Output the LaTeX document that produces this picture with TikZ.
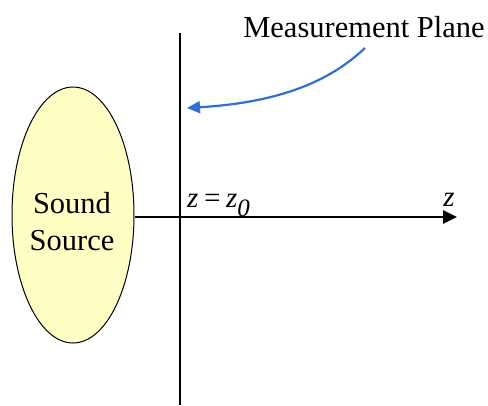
\documentclass[tikz,border=0pt]{standalone}
\usepackage{fontspec}
\setmainfont{Liberation Serif}
\usetikzlibrary{arrows.meta,shapes.geometric}
\definecolor{srcfill}{HTML}{FFFFC4}
\definecolor{arrowblue}{HTML}{2F6FD6}
\tikzset{
  axisline/.style={line width=2.6pt, black},
  lbl/.style={font=\fontsize{30.5}{36}\selectfont, inner sep=0pt},
  mathlbl/.style={font=\fontsize{29}{32}\selectfont\itshape, inner sep=0pt},
}
\begin{document}
\begin{tikzpicture}[x=1pt,y=-1pt]
\useasboundingbox (0,0) rectangle (488,405);
% sound source
\node[ellipse, draw=black, line width=1pt, fill=srcfill, minimum width=122pt, minimum height=256pt, inner sep=0pt] (src) at (73,215) {};
\node[lbl, align=center, font=\fontsize{30.5}{37}\selectfont] (srctext) at (72,222) {Sound\\Source};
% measurement plane
\coordinate (ptop) at (180,33);
\coordinate (pbot) at (180,405);
\draw[axisline] (ptop) -- (pbot);
% z axis
\coordinate (zend) at (457,217);
\draw[axisline, -{Triangle[length=14pt,width=13pt]}] (src.east |- zend) -- (zend);
% labels
\node[mathlbl, anchor=base west] (zz) at (187,207) {z\hspace{4pt}=\hspace{4pt}z\raisebox{-9pt}{\fontsize{25}{28}\selectfont 0}};
\node[mathlbl, anchor=base] (zlbl) at (449,206) {z};
\node[lbl, anchor=base] (mp) at (364,37) {Measurement Plane};
% blue arrow
\coordinate (astart) at (365,48);
\coordinate (aend) at (187,108);
\draw[arrowblue, line width=2.2pt, -{Triangle[length=13pt,width=12pt]}] (astart) .. controls (325,86) and (270,103) .. (aend);
\end{tikzpicture}
\end{document}
